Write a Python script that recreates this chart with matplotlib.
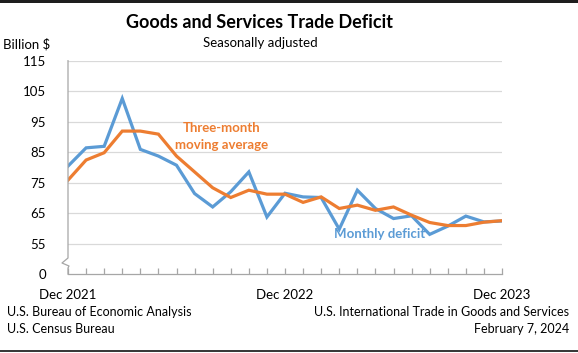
import numpy as np
import matplotlib
matplotlib.use("Agg")
import matplotlib.pyplot as plt
from matplotlib.lines import Line2D
from matplotlib.patches import Rectangle

plt.rcParams["font.family"] = ["Lato", "DejaVu Sans"]

# monthly goods and services trade deficit, Dec 2021 .. Dec 2023 (billion $)
monthly = [80.4, 86.4, 86.9, 102.6, 85.9, 83.7, 80.7, 71.4, 67.0, 72.0, 78.5, 63.7,
           71.5, 70.3, 70.1, 59.7, 72.5, 66.5, 63.2, 64.1, 58.0, 60.7, 64.0, 62.1, 62.4]
# three-month moving average
moving_avg = [75.8, 82.4, 84.8, 91.9, 91.9, 90.9, 83.7, 78.5, 73.3, 70.1, 72.5, 71.2,
              71.2, 68.5, 70.3, 66.5, 67.6, 65.9, 67.0, 64.3, 61.9, 60.9, 60.9, 62.0, 62.5]
x_labels = ["Dec 2021", "Dec 2022", "Dec 2023"]
y_ticks = [45, 55, 65, 75, 85, 95, 105, 115]
y_tick_labels = ["0", "55", "65", "75", "85", "95", "105", "115"]

BLUE = "#5B9BD5"
ORANGE = "#ED7D31"
GRID = "#D9D9D9"
AXIS = "#A6A6A6"

W, H = 578, 353
fig = plt.figure(figsize=(W / 100, H / 100), dpi=100)
ax = fig.add_axes([68 / W, 1 - 274 / H, (502 - 68) / W, (274 - 60.7) / H])

x = np.arange(len(monthly))
ax.plot(x, monthly, color=BLUE, lw=2.3, solid_joinstyle="miter", zorder=3)
ax.plot(x, moving_avg, color=ORANGE, lw=2.3, solid_joinstyle="miter", zorder=4)

ax.set_xlim(0, len(monthly) - 1)
ax.set_ylim(45, 115)
ax.set_yticks(y_ticks)
ax.set_yticklabels(y_tick_labels, fontsize=9.5)
for yv in y_ticks[1:]:
    ax.axhline(yv, color=GRID, lw=0.9, zorder=1)
ax.tick_params(axis="y", length=0, pad=16)

ax.set_xticks(x)
ax.set_xticklabels([])
ax.tick_params(axis="x", direction="in", length=4, color=AXIS, width=0.9)
for i, lab in zip([0, 12, 24], x_labels):
    ax.text(i, -0.07, lab, transform=ax.get_xaxis_transform(), ha="center",
            va="top", fontsize=9.5)

for s in ["top", "right", "left"]:
    ax.spines[s].set_visible(False)
ax.spines["bottom"].set_color(AXIS)
ax.spines["bottom"].set_linewidth(0.9)

# broken y axis line with squiggle
px = [68, 68, 62, 69, 68, 68]
py = [60.7, 258, 263, 266, 268, 274]
fig.add_artist(Line2D([v / W for v in px], [1 - v / H for v in py],
                      color=AXIS, lw=0.9))

fig.text(222 / W, 1 - 128 / H, "Three-month", ha="center", va="center",
         fontsize=9.5, fontweight="bold", color=ORANGE)
fig.text(222 / W, 1 - 145 / H, "moving average", ha="center", va="center",
         fontsize=9.5, fontweight="bold", color=ORANGE)
fig.text(380 / W, 1 - 234 / H, "Monthly deficit", ha="center", va="center",
         fontsize=9.5, fontweight="bold", color=BLUE)

fig.text(260 / W, 1 - 22 / H, "Goods and Services Trade Deficit", ha="center",
         va="center", fontsize=13, fontweight="bold")
fig.text(260 / W, 1 - 43 / H, "Seasonally adjusted", ha="center", va="center",
         fontsize=9.5)
fig.text(3 / W, 1 - 44 / H, "Billion $", ha="left", va="center", fontsize=9.5)

fig.text(7 / W, 1 - 312 / H, "U.S. Bureau of Economic Analysis", ha="left",
         va="center", fontsize=9)
fig.text(7 / W, 1 - 329 / H, "U.S. Census Bureau", ha="left", va="center",
         fontsize=9)
fig.text(569 / W, 1 - 312 / H, "U.S. International Trade in Goods and Services",
         ha="right", va="center", fontsize=9)
fig.text(569 / W, 1 - 329 / H, "February 7, 2024", ha="right", va="center",
         fontsize=9)

# dark frame edges at top and bottom
fig.add_artist(Rectangle((0, 1 - 3 / H), 1, 3 / H, transform=fig.transFigure,
                         color="#1E1E1E", lw=0))
fig.add_artist(Rectangle((0, 1 - 351.5 / H), 1, 1.5 / H, transform=fig.transFigure,
                         color="#3A3A3A", lw=0))

fig.savefig("out.png", dpi=100)
